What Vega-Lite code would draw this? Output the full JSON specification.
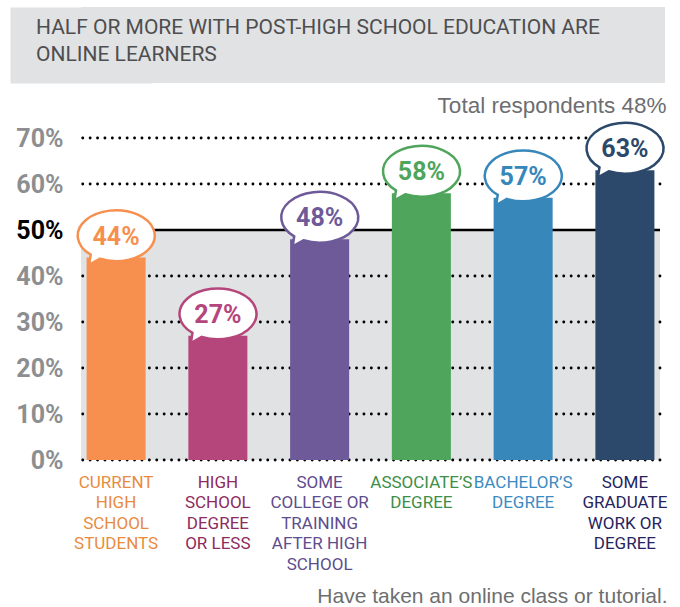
{
  "$schema": "https://vega.github.io/schema/vega-lite/v6.json",
  "padding": {"left": 10, "top": 7, "right": 0, "bottom": 0},
  "background": "white",
  "spacing": 12,
  "config": {
    "view": {"stroke": null},
    "axisX": {
      "labelAngle": 0,
      "labelFont": "Roboto, sans-serif",
      "labelFontSize": 17,
      "labelLineHeight": 20.5,
      "labelPadding": 14,
      "labelBaseline": "top",
      "labelOverlap": false,
      "labelLimit": 0,
      "ticks": false,
      "tickSize": 0,
      "domain": false,
      "grid": false,
      "titleAnchor": "end",
      "titleAlign": "right",
      "titleX": 586,
      "titleFont": "Liberation Sans, sans-serif",
      "titleFontSize": 21,
      "titleFontWeight": "normal",
      "titleColor": "#6d6e70",
      "titlePadding": 13
    },
    "axisY": {
      "grid": false,
      "domain": false,
      "ticks": false,
      "tickSize": 0,
      "labelFont": "Roboto, sans-serif",
      "labelFontSize": 25,
      "labelFontWeight": "bold",
      "labelPadding": 18,
      "minExtent": 71,
      "maxExtent": 71
    }
  },
  "datasets": {
    "edu": [
      {"group": "CURRENT|HIGH|SCHOOL|STUDENTS", "share": 0.44},
      {"group": "HIGH|SCHOOL|DEGREE|OR LESS", "share": 0.27},
      {"group": "SOME|COLLEGE OR|TRAINING|AFTER HIGH|SCHOOL", "share": 0.48},
      {"group": "ASSOCIATE’S|DEGREE", "share": 0.58},
      {"group": "BACHELOR’S|DEGREE", "share": 0.57},
      {"group": "SOME|GRADUATE|WORK OR|DEGREE", "share": 0.63}
    ],
    "grid": [
      {"level": 0}, {"level": 0.1}, {"level": 0.2}, {"level": 0.3},
      {"level": 0.4}, {"level": 0.6}, {"level": 0.7}
    ],
    "half": [{"level": 0.5}]
  },
  "vconcat": [
    {
      "width": 584,
      "height": 76,
      "view": {"fill": "#e1e2e3", "stroke": null},
      "data": {"values": [{"heading": ["HALF OR MORE WITH POST-HIGH SCHOOL EDUCATION ARE", "ONLINE LEARNERS"]}]},
      "layer": [
        {
          "mark": {"type": "rule", "opacity": 0},
          "encoding": {
            "y": {
              "datum": 0,
              "type": "quantitative",
              "axis": {
                "title": null,
                "labels": false,
                "ticks": false,
                "grid": false,
                "domain": true,
                "domainColor": "#e1e2e3",
                "domainWidth": 142,
                "domainCap": "butt"
              }
            }
          }
        },
        {
          "mark": {
            "type": "text",
            "align": "left",
            "baseline": "middle",
            "dx": -337,
            "dy": -17,
            "font": "Roboto, sans-serif",
            "fontSize": 21,
            "lineHeight": 27,
            "color": "#4d4e50"
          },
          "encoding": {"text": {"field": "heading"}}
        }
      ]
    },
    {
      "width": 579,
      "height": 322,
      "title": {
        "text": "Total respondents 48%",
        "anchor": "end",
        "font": "Liberation Sans, sans-serif",
        "fontSize": 22.5,
        "fontWeight": "normal",
        "color": "#6d6e70",
        "offset": 0,
        "dx": -2
      },
      "layer": [
        {
          "data": {"values": [{"zone": "below half"}]},
          "mark": {"type": "rect", "color": "#e1e2e3"},
          "encoding": {
            "y": {"datum": 0, "type": "quantitative", "scale": {"domain": [0, 0.7], "nice": false}},
            "y2": {"datum": 0.5}
          }
        },
        {
          "data": {"name": "grid"},
          "mark": {"type": "rule", "color": "black", "strokeWidth": 2.8, "strokeDash": [0.1, 7.3], "strokeCap": "round"},
          "encoding": {
            "y": {"field": "level", "type": "quantitative", "title": null}
          }
        },
        {
          "data": {"name": "half"},
          "mark": {"type": "rule", "color": "black", "strokeWidth": 2.6},
          "encoding": {
            "y": {"field": "level", "type": "quantitative", "title": null}
          }
        },
        {
          "data": {"name": "edu"},
          "mark": {"type": "bar"},
          "encoding": {
            "x": {
              "field": "group",
              "type": "nominal",
              "sort": null,
              "scale": {"paddingInner": 0.42, "paddingOuter": 0.055},
              "axis": {
                "title": "Have taken an online class or tutorial.",
                "labelExpr": "split(datum.value, '|')",
                "labelColor": {"expr": "datum.value === 'CURRENT|HIGH|SCHOOL|STUDENTS' ? '#e98b3f' : datum.value === 'HIGH|SCHOOL|DEGREE|OR LESS' ? '#8d2b5e' : datum.value === 'SOME|COLLEGE OR|TRAINING|AFTER HIGH|SCHOOL' ? '#5d4c8e' : datum.value === 'ASSOCIATE’S|DEGREE' ? '#3d8e46' : datum.value === 'BACHELOR’S|DEGREE' ? '#3b8bc2' : '#25245e'"}
              }
            },
            "y": {
              "field": "share",
              "type": "quantitative",
              "scale": {"domain": [0, 0.7], "nice": false},
              "axis": {
                "title": null,
                "values": [0, 0.1, 0.2, 0.3, 0.4, 0.5, 0.6, 0.7],
                "format": ".0%",
                "labelColor": {"condition": {"test": "datum.value === 0.5", "value": "black"}, "value": "#8c8e90"}
              }
            },
            "color": {
              "field": "group",
              "type": "nominal",
              "legend": null,
              "scale": {
                "domain": ["CURRENT|HIGH|SCHOOL|STUDENTS", "HIGH|SCHOOL|DEGREE|OR LESS", "SOME|COLLEGE OR|TRAINING|AFTER HIGH|SCHOOL", "ASSOCIATE’S|DEGREE", "BACHELOR’S|DEGREE", "SOME|GRADUATE|WORK OR|DEGREE"],
                "range": ["#f78f4f", "#b5467b", "#6e5a99", "#4fa55b", "#3787bb", "#2c496c"]
              }
            }
          }
        },
        {
          "data": {"name": "edu"},
          "mark": {
            "type": "point",
            "shape": "M-0.66,0.496 A1,0.66 0 1,1 -0.42,0.6 L-0.7,0.76 Z",
            "size": 5929,
            "filled": false,
            "fill": "white",
            "fillOpacity": 1,
            "opacity": 1,
            "strokeWidth": 2.5,
            "yOffset": -22
          },
          "encoding": {
            "x": {"field": "group", "type": "nominal", "sort": null},
            "y": {"field": "share", "type": "quantitative"},
            "stroke": {
              "field": "group",
              "type": "nominal",
              "legend": null,
              "scale": {
                "domain": ["CURRENT|HIGH|SCHOOL|STUDENTS", "HIGH|SCHOOL|DEGREE|OR LESS", "SOME|COLLEGE OR|TRAINING|AFTER HIGH|SCHOOL", "ASSOCIATE’S|DEGREE", "BACHELOR’S|DEGREE", "SOME|GRADUATE|WORK OR|DEGREE"],
                "range": ["#f78f4f", "#b5467b", "#6e5a99", "#4fa55b", "#3787bb", "#2c496c"]
              }
            }
          }
        },
        {
          "data": {"name": "edu"},
          "mark": {
            "type": "text",
            "font": "Roboto, sans-serif",
            "fontSize": 25,
            "fontWeight": "bold",
            "align": "center",
            "baseline": "middle",
            "yOffset": -21
          },
          "encoding": {
            "x": {"field": "group", "type": "nominal", "sort": null},
            "y": {"field": "share", "type": "quantitative"},
            "text": {"field": "share", "type": "quantitative", "format": ".0%"},
            "color": {"field": "group", "type": "nominal", "legend": null}
          }
        }
      ]
    }
  ]
}
